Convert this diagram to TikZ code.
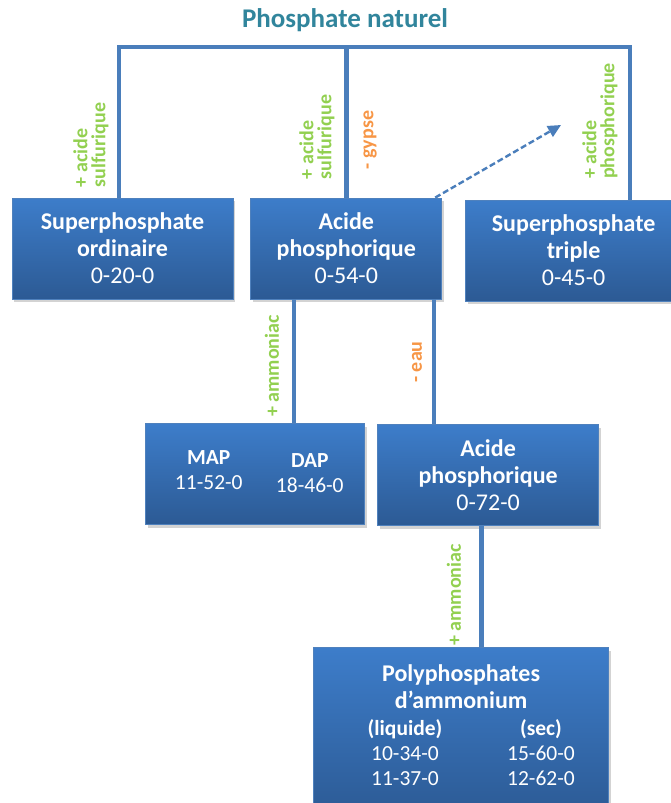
\documentclass[tikz,border=0pt]{standalone}
\usepackage{fontspec}
\setmainfont{Carlito}
\usetikzlibrary{arrows.meta, positioning, shadows}
\definecolor{linkblue}{HTML}{4A7EBB}
\definecolor{boxtop}{HTML}{3D7DCA}
\definecolor{boxbot}{HTML}{2C5A94}
\definecolor{boxedge}{HTML}{4F81BD}
\definecolor{titleteal}{HTML}{31859C}
\definecolor{addgreen}{HTML}{92D050}
\definecolor{lossorange}{HTML}{F79646}

\begin{document}
\begin{tikzpicture}[x=1pt, y=-1pt,
   >=Latex, node distance=17pt,
   box/.style={draw=boxedge, line width=0.8pt, top color=boxtop, bottom color=boxbot, text=white,
               align=center, inner sep=0pt, minimum height=101pt, font=\fontsize{24}{27}\selectfont,
               drop shadow={shadow xshift=2pt, shadow yshift=-3pt, opacity=0.35}},
   cell/.style={text=white, align=center, inner sep=0pt, font=\fontsize{21.5}{25}\selectfont},
   link/.style={draw=linkblue, line width=4.6pt},
   dashlink/.style={draw=linkblue, line width=2.4pt, dash pattern=on 6pt off 3pt,
               -{Triangle[length=13pt, width=12pt]}},
   lab/.style={font=\fontsize{20}{18}\selectfont\bfseries, align=left, rotate=90, inner sep=0pt},
   add/.style={lab, text=addgreen},
   loss/.style={lab, text=lossorange}]
  \useasboundingbox (0,0) rectangle (671,803);

  \node[font=\fontsize{27}{30}\selectfont\bfseries, text=titleteal] (title) at (345,20) {Phosphate naturel};

  % first row
  \node[box, minimum width=221pt] (super1) at (122.5,248.5) {\textbf{Superphosphate}\\\textbf{ordinaire}\\0-20-0};
  \node[box, minimum width=191pt, right=17pt of super1] (acide1) {\textbf{Acide}\\\textbf{phosphorique}\\0-54-0};
  \node[box, minimum width=216pt, right=23pt of acide1, yshift=-2pt] (super3) {\textbf{Superphosphate}\\\textbf{triple}\\0-45-0};

  % second row
  \node[box, minimum width=219pt, below=124pt of acide1, xshift=-91pt] (mapdap) {};
  \node[cell] (map) at ([xshift=-46.5pt, yshift=4pt]mapdap.center) {\textbf{MAP}\\11-52-0};
  \node[cell] (dap) at ([xshift=54.5pt, yshift=1pt]mapdap.center) {\textbf{DAP}\\18-46-0};
  \node[box, minimum width=221pt, right=12pt of mapdap, yshift=-1pt] (acide2) {\textbf{Acide}\\\textbf{phosphorique}\\0-72-0};

  % third row
  \node[box, minimum width=295pt, minimum height=170pt, below=121pt of acide2, xshift=-27pt] (poly) {};
  \node[cell, font=\fontsize{24}{27}\selectfont\bfseries, below=17pt of poly.north] (polyhead) {Polyphosphates\\d’ammonium};
  \node[cell] (liquide) at (405,753) {\textbf{(liquide)}\\10-34-0\\11-37-0};
  \node[cell] (sec) at (541,753) {\textbf{(sec)}\\15-60-0\\12-62-0};

  % connectors
  \coordinate (barL) at (119,47);
  \coordinate (barR) at (630,47);
  \draw[link] (super1.north -| barL) -- (barL) -- (barR) -- (super3.north -| barR);
  \draw[link] (acide1.north) -- (acide1.north |- barL);
  \coordinate (nh3a) at ([xshift=-52.5pt]acide1.south);
  \draw[link] (nh3a) -- (nh3a |- mapdap.north);
  \coordinate (eau) at ([xshift=87.5pt]acide1.south);
  \draw[link] (eau) -- (eau |- acide2.north);
  \coordinate (nh3b) at ([xshift=-6.5pt]acide2.south);
  \draw[link] (nh3b) -- (nh3b |- poly.north);
  \coordinate (dashtip) at (561,125);
  \draw[dashlink] ([xshift=-7pt]acide1.north east) -- (dashtip);

  % labels
  \node[add] (sulf1) at (91,145) {+ acide\\sulfurique};
  \node[add] (sulf2) at (317,137) {+ acide\\sulfurique};
  \node[loss] (gypse) at (370,140) {- gypse};
  \node[add] (phos) at (600,121) {+ acide\\phosphorique};
  \node[add] (amm1) at (272,366) {+ ammoniac};
  \node[loss] (eaulab) at (417,362) {- eau};
  \node[add] (amm2) at (454,595) {+ ammoniac};
\end{tikzpicture}
\end{document}
